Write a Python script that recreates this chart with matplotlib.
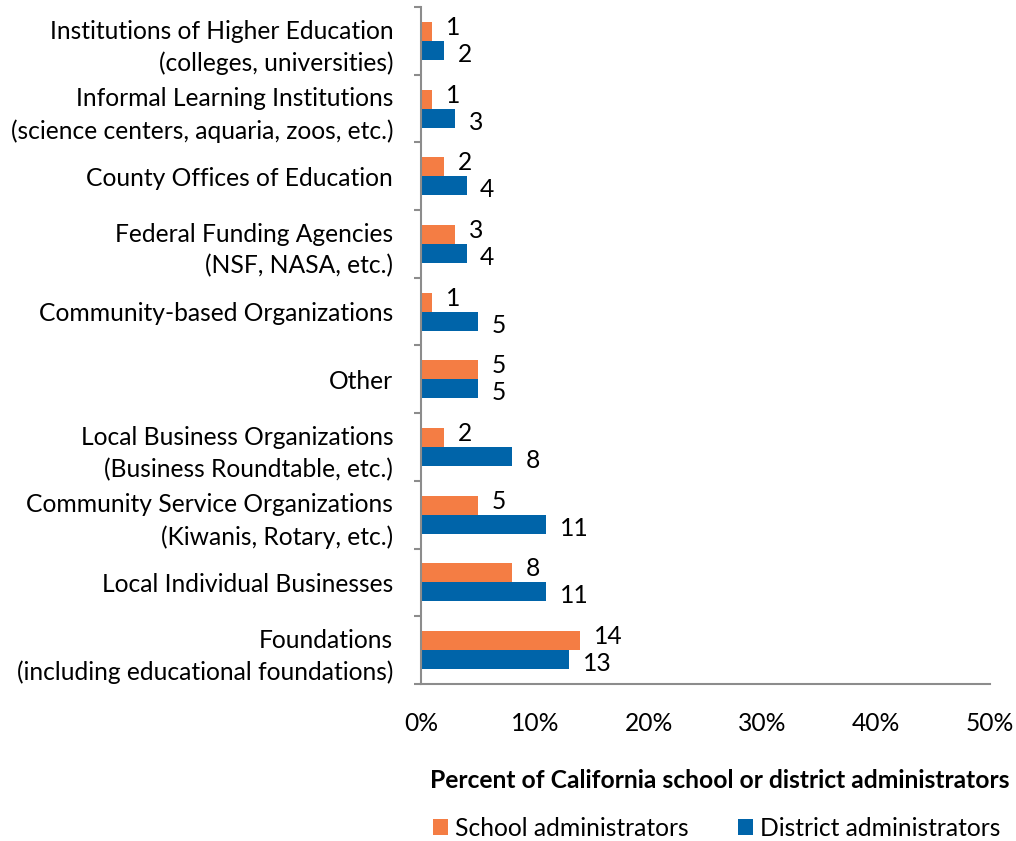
import matplotlib.pyplot as plt
import numpy as np

plt.rcParams['font.family'] = ['Lato', 'DejaVu Sans']

categories = [
    'Institutions of Higher Education\n(colleges, universities)',
    'Informal Learning Institutions\n(science centers, aquaria, zoos, etc.)',
    'County Offices of Education',
    'Federal Funding Agencies\n(NSF, NASA, etc.)',
    'Community-based Organizations',
    'Other',
    'Local Business Organizations\n(Business Roundtable, etc.)',
    'Community Service Organizations\n(Kiwanis, Rotary, etc.)',
    'Local Individual Businesses',
    'Foundations\n(including educational foundations)',
]
school = [1, 1, 2, 3, 1, 5, 2, 5, 8, 14]
district = [2, 3, 4, 4, 5, 5, 8, 11, 11, 13]

orange = '#F47D44'
blue = '#0064A9'
gray = '#8C8C8C'
fs = 17.7

fig = plt.figure(figsize=(10.16, 8.41), dpi=100)
ax = fig.add_axes([421 / 1016, 1 - 684 / 841, 569 / 1016, 677 / 841])

y = np.arange(len(categories))
h = 0.28
ax.barh(y - h / 2, school, height=h, color=orange, label='School administrators')
ax.barh(y + h / 2, district, height=h, color=blue, label='District administrators')

for yi, s, d in zip(y, school, district):
    ax.text(s + 1.2, yi - h / 2 - 0.06, str(s), va='center', ha='left', fontsize=fs)
    ax.text(d + 1.2, yi + h / 2 + 0.06, str(d), va='center', ha='left', fontsize=fs)

ax.set_ylim(len(categories) - 0.5, -0.5)
ax.set_xlim(0, 50)
ax.set_yticks(y)
ax.set_yticklabels(categories, fontsize=fs, linespacing=1.45)
ax.set_yticks(np.arange(-0.5, len(categories), 1), minor=True)
ax.tick_params(axis='y', which='major', length=0, pad=20)
ax.tick_params(axis='y', which='minor', length=5, color=gray, width=1.5)

ax.set_xticks(np.arange(0, 51, 10))
ax.set_xticklabels([f'{v}%' for v in range(0, 51, 10)], fontsize=fs)
ax.tick_params(axis='x', length=0, pad=20)
ax.set_xlabel('Percent of California school or district administrators',
              fontsize=fs, fontweight='bold', labelpad=25)
ax.xaxis.label.set_x(0.525)

for side in ['top', 'right']:
    ax.spines[side].set_visible(False)
for side in ['left', 'bottom']:
    ax.spines[side].set_color(gray)
    ax.spines[side].set_linewidth(1.5)

fig.legend(loc='center', bbox_to_anchor=(717 / 1016, 1 - 828 / 841), ncol=2,
           frameon=False, fontsize=fs, handlelength=0.6, handleheight=0.6,
           handletextpad=0.3, columnspacing=2.0)

fig.savefig('out.png', dpi=100)
